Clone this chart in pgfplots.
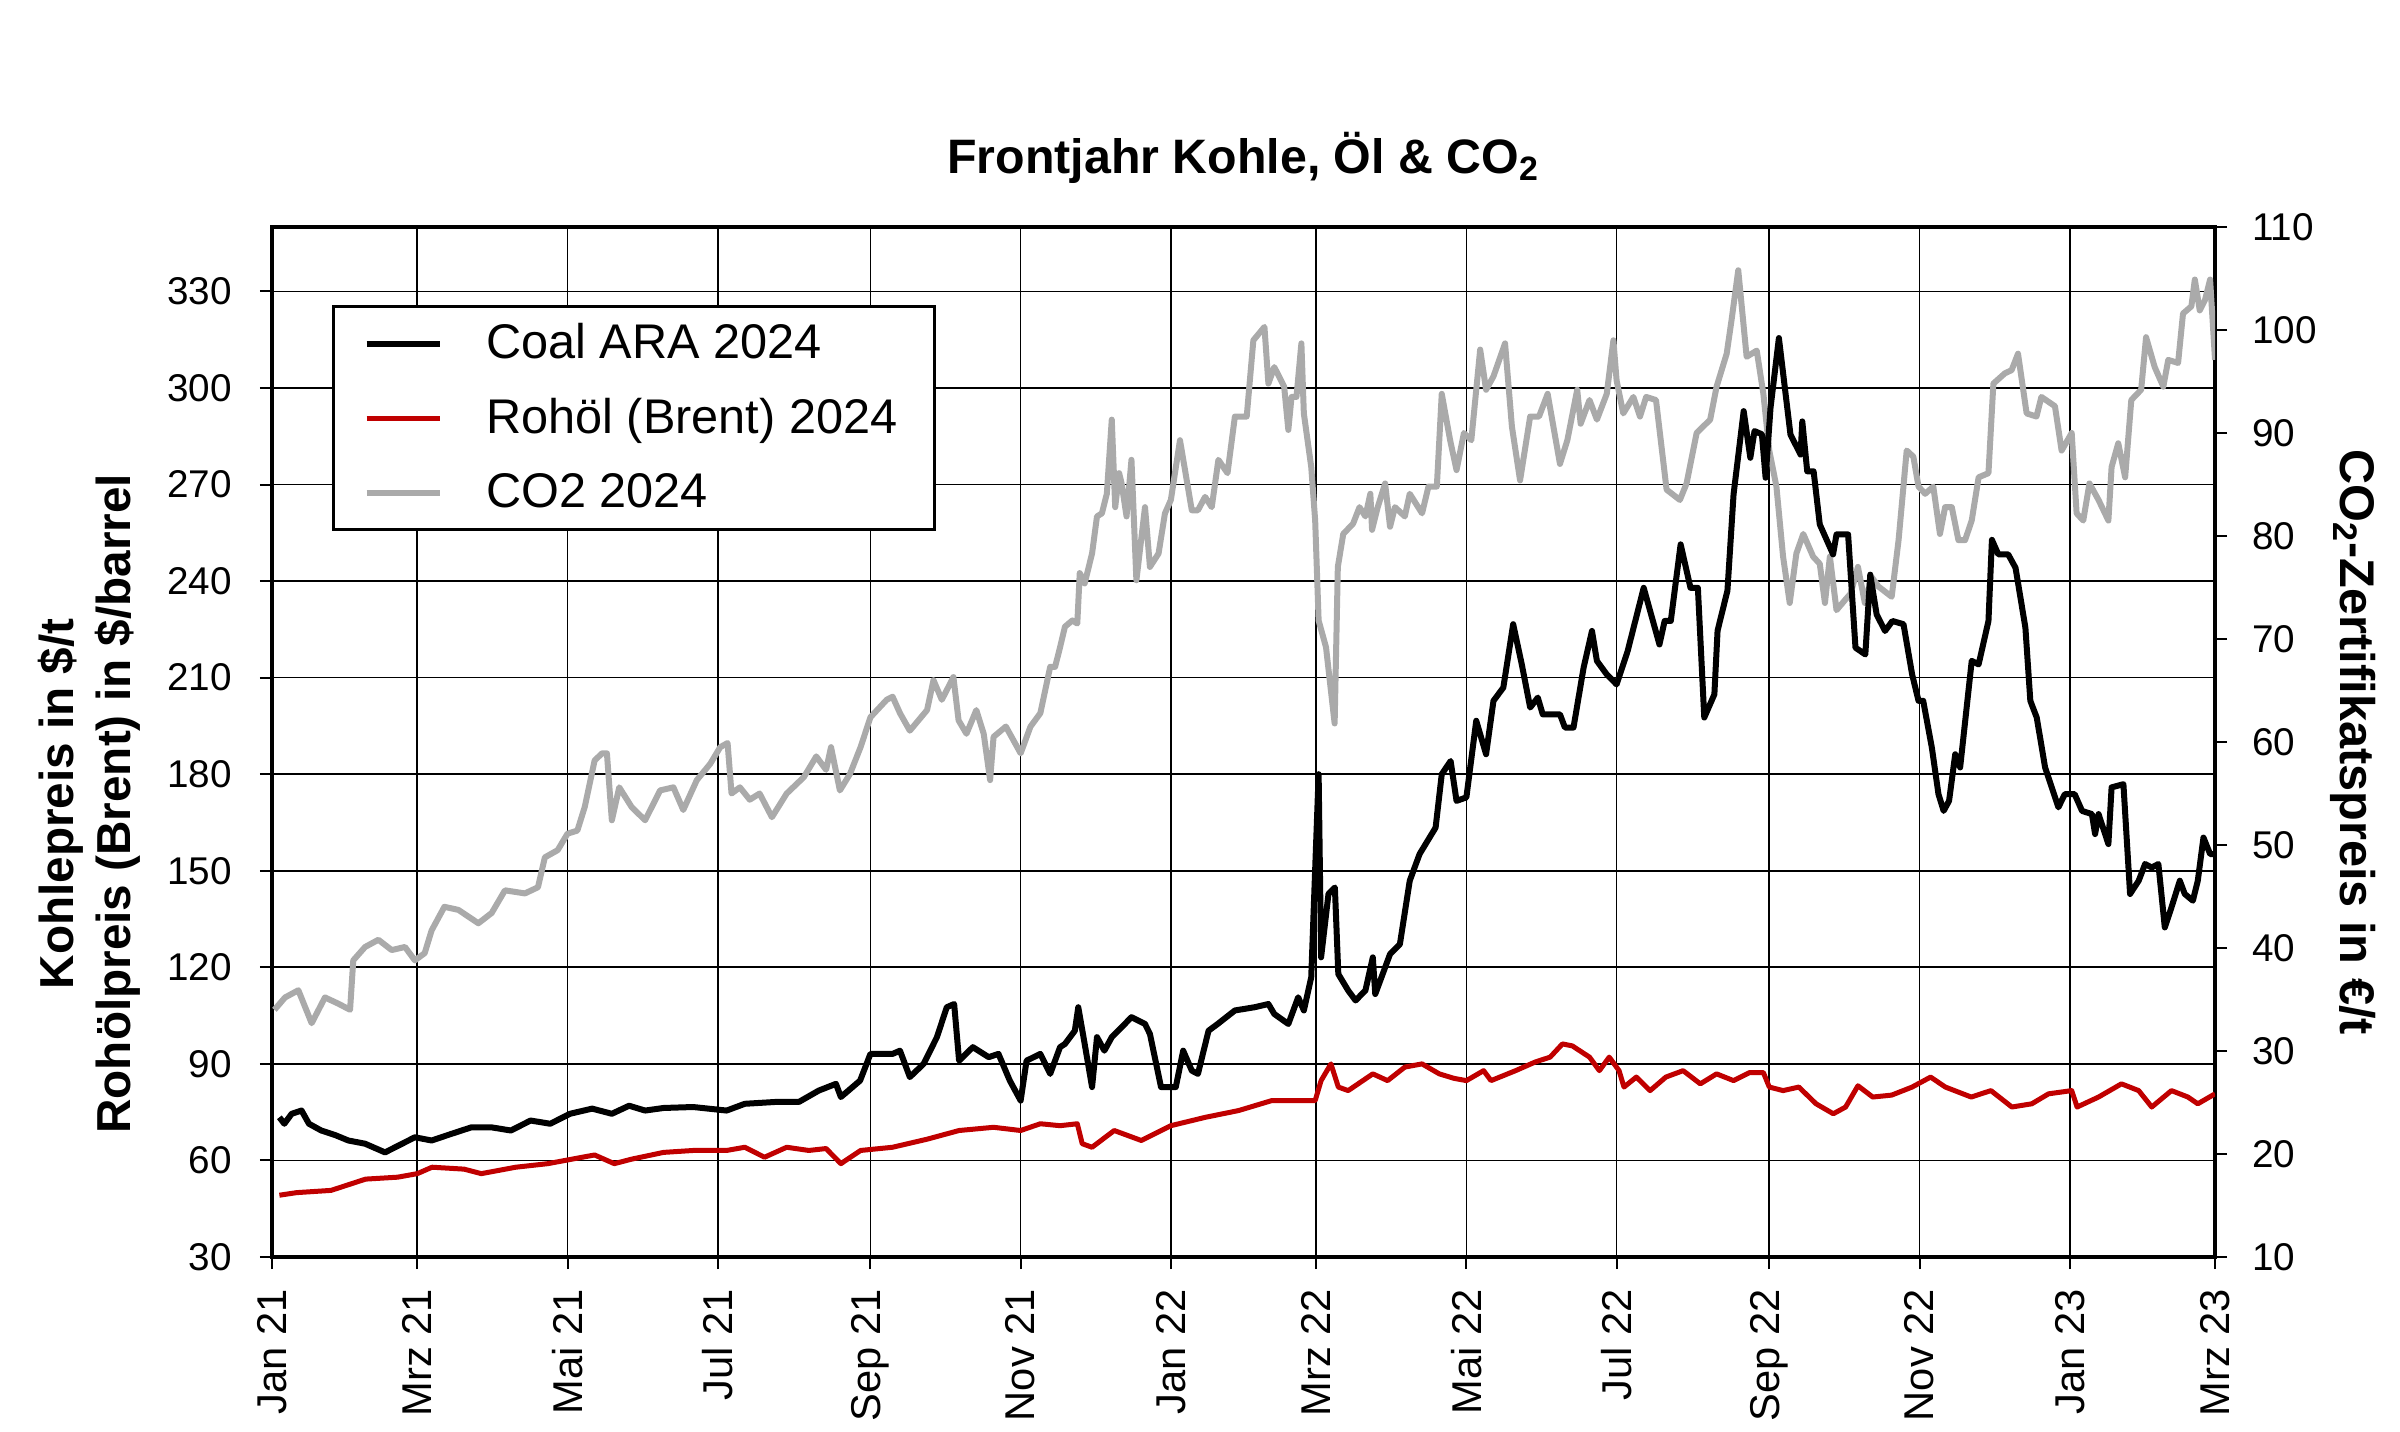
\documentclass[border=0pt]{standalone}
\usepackage{fontspec}
\setmainfont{Liberation Sans}
\usepackage{pgfplots}
\pgfplotsset{compat=1.18}
\usepackage{pgfplotstable}

\definecolor{brentred}{RGB}{192,0,0}
\definecolor{co2gray}{RGB}{170,170,170}

\pgfplotstableread{
d v
3 73.4
5 71.4
8 74.5
12 75.5
15 71.4
20 69.3
25.6 67.9
31 66.2
37.8 65.2
45.9 62.5
51.3 64.6
58 67.2
64.8 66.2
73 68.3
81 70.3
89 70.3
97 69.3
105 72.4
113 71.4
121 74.5
130 76.1
138 74.5
145 77
151.5 75.5
159 76.3
171 76.6
184.6 75.5
192 77.6
205 78.2
214 78.2
222 81.7
229 83.8
231 79.7
238.8 84.8
243 93.1
252 93.1
255 94.1
259 85.9
264.6 90
270 98.3
274 107.6
277 108.6
279 91
284.6 95.2
291 92.1
295 93.1
299.6 84.8
304 78.6
306.4 91
312 93.1
316 86.9
320 95.2
322 96.2
326 100.3
327.4 107.6
330 96.2
333 82.8
335 98.3
338 94.1
341 98.3
349 104.5
354.5 102.4
356.5 99.3
361 82.8
367 82.8
370 94.1
373.5 87.9
376 86.9
380.3 100.3
384 102.4
391 106.6
399 107.6
404.6 108.6
407 105.5
412.7 102.4
416.7 110.7
419 106.6
422 116.9
425 180
426 123.1
429 142.8
431.6 144.8
433 117.9
437 112.8
440 109.7
444 112.8
447 123.1
448 111.7
454 124.1
458 127.2
462 146.9
466 155.2
472.5 163.4
475 180
478.6 184.1
481 171.7
485 172.8
489 196.6
493 186.2
496 202.8
500 206.9
504 226.6
507.5 214.1
510.9 200.7
514 203.8
516 198.6
523 198.6
525 194.5
528.5 194.5
532.6 213.1
536 224.5
538 215.2
542 211
546 207.9
550.5 218.3
557 237.9
563.4 220.3
565.5 227.6
568 227.6
572 251.4
576 237.9
579 237.9
581.6 197.6
585.7 204.8
587 224.6
591 237
593.5 267
597.6 292.8
600.3 278.3
602 286.6
605 285.6
606.5 272.1
608.5 293.8
611.9 315.5
616.6 285.5
620.7 279.3
621.4 289.6
623.4 274.1
626 274.1
628.5 257.6
633.9 248.3
635.3 254.5
640 254.5
643 219.3
647 217.2
649 242
651.6 229.6
655 224.5
658 227.6
662.5 226.6
666 211
668.6 202.8
670.5 202.8
674 188.3
676.7 173.8
678.8 168.6
681 171.7
683.5 186.2
685.5 182.1
690.2 215.2
693 214.1
697 227.6
698.4 252.8
701 248.3
705 248.3
708 244.1
712 225.5
714 202.8
716.6 197.6
720 182.1
725.4 169.7
728 173.8
732 173.8
735 168.6
739 167.6
740.3 161.4
741.7 167.6
745.7 158.3
747 175.9
751.8 176.9
754.5 142.8
758 146.9
760.6 152.1
763.3 151
766 152.1
768.6 132.4
771.3 138.6
774.7 146.9
776.7 142.8
780 140.7
782 146.9
784.3 160.3
787 155.2
789 155.2
}\coaltab

\pgfplotstableread{
d v
3 49.2
10 50
24 50.7
38 54.2
51 54.8
59 55.9
65 57.9
78 57.3
85 55.9
99 57.9
112 59
126 61
131 61.7
139 59
146 60.4
159 62.5
171 63.1
184.6 63.1
192 64.1
200 61
209 64.1
218 63.1
225 63.7
231 59
239 63.1
252 64.1
266 66.6
279 69.3
293 70.3
304 69.3
312 71.4
320 70.8
327 71.4
329 65.2
333 64.1
342 69.3
353 66.2
365 70.8
379 73.4
392.5 75.5
406 78.6
423.6 78.6
426 84.8
430 90
433 82.8
437 81.7
447 86.9
453 84.8
460 89
467 90
474 86.9
480 85.5
485 84.8
492 87.9
495 84.8
505 87.9
513 90.6
519 92.1
524 96.2
528 95.6
535 92.1
539 87.9
543 92.1
547 87.9
549 82.8
554 85.9
559.6 81.7
566 85.9
573 87.9
580 83.8
586.6 86.9
593.5 84.8
600 87.3
605.6 87.3
608 82.8
613.6 81.7
620 82.8
627 77.6
634 74.5
639 76.6
644 83.2
650 79.7
657.7 80.3
666 82.8
673.5 85.9
679.5 82.8
690 79.7
698 81.7
706.5 76.6
714.6 77.6
721.4 80.7
730.8 81.7
733 76.6
741.7 79.7
751 83.8
758 81.7
763.3 76.6
771.3 81.7
778 79.7
782 77.6
789 80.7
}\brenttab

\pgfplotstableread{
d v
1 34
5.3 35.2
10.7 35.9
16.1 32.7
21.5 35.2
26.9 34.6
31.7 34
33 38.8
37.8 40.1
43.2 40.8
48.6 39.8
54 40.1
58 38.8
62 39.5
64.8 41.7
70 44
75.7 43.7
83.8 42.4
89.2 43.4
94.6 45.6
102.7 45.3
108 45.9
110.8 48.8
116 49.5
120 51.1
124 51.4
127 53.7
131 58.2
134 58.9
136 58.9
138 52.4
141 55.6
146 53.7
151.5 52.4
157.6 55.3
163 55.6
167 53.4
172.5 56.3
178 57.9
182 59.5
185 59.9
186.6 55
190 55.6
194 54.4
198 55
203 52.7
209 55
216 56.6
221 58.6
225 57.3
227 59.5
230.6 55.3
234.7 56.9
239 59.5
243 62.4
249.6 64.1
252 64.4
255 62.8
259 61.1
266 63.1
268.6 66
272 64.1
276.7 66.3
278.8 62.1
282 60.8
286 63.1
289 60.8
291.6 56.3
293 60.5
298 61.5
304 58.9
308 61.5
312 62.8
316 67.3
318 67.3
320 69.2
322 71.2
325 71.8
327 71.5
328 76.4
330 75.4
333 78.3
335 81.9
337 82.2
339 84.1
341 91.3
342.4 82.8
344 86.1
345 85.1
347 81.9
349 87.4
351 75.7
354.5 82.8
356.5 77
360 78.3
362.6 82.2
365 83.5
368.7 89.3
373.5 82.5
376 82.5
378.9 83.8
381.6 82.8
384.3 87.4
388 86.1
391 91.6
395.8 91.6
398.5 99
403 100.3
404.6 94.8
407 96.4
411 94.5
412.7 90.3
414 93.5
416 93.5
418 98.7
419 91.9
422 86.7
423.6 81.5
425 71.8
428 69.2
431.5 61.8
432.8 77
435 80.2
439 81.2
441.6 82.8
444 81.9
446 84.1
446.7 80.6
449 82.8
452 85.1
454 80.9
456 82.8
460 81.9
462 84.1
467 82.2
469.6 84.8
473 84.8
475 93.8
478.4 89.3
481 86.4
484 90
487 89.3
490.6 98.1
493 94.2
496 95.5
500.7 98.7
503.5 90.6
506.8 85.4
510.9 91.6
514.5 91.6
518 93.8
523 87
526 89.3
530 94.2
531.4 90.9
535 93.2
538 91.3
542 93.8
544.7 99
546 95.1
548.7 91.9
552.8 93.5
555.5 91.6
558 93.5
562 93.2
566.3 84.5
571.7 83.5
574.4 85.1
578.5 90
584 91.3
586.6 94.5
590.7 97.7
592.7 101
595.4 105.8
598.8 97.4
602.9 98
605.6 93.8
608 88.3
610.9 84.8
613.6 78
616.3 73.5
619 78.3
621.8 80.2
625.8 78
628.5 77.3
630.6 73.5
632.6 78
635.3 72.8
638.8 73.8
641 74.4
644 77
646.8 73.5
649.6 76
652.3 75.1
657.7 74.1
660.5 79.6
663.8 88.3
666.5 87.7
668.6 84.8
671.3 84.1
674.6 84.8
677.3 80.2
679.4 82.8
682.1 82.8
684.8 79.6
687.5 79.6
690.2 81.5
693 85.7
697 86.1
699 94.8
703.7 95.8
706.4 96.1
709 97.7
712.5 91.9
716.5 91.6
718.5 93.5
724 92.6
726.7 88.3
730.8 90
732.8 82.2
735.5 81.5
738 85.1
741.7 83.5
745.7 81.5
747 86.7
749.7 89
752.5 85.7
755 93.2
759 94.2
761 99.3
764.5 96.4
768 94.5
770 97.1
774 96.8
776 101.6
779.4 102.3
780.8 104.9
782.8 101.9
784.9 102.9
787 104.9
789 97.1
}\cotab

\begin{document}
\begin{tikzpicture}
\path[use as bounding box] (0,0) rectangle (720pt,429.3pt);
\pgfplotsset{
  base/.style={
    at={(81.6pt,52.2pt)}, anchor=south west,
    scale only axis, width=582.9pt, height=309pt,
    xmin=0, xmax=789,
    tick label style={font=\fontsize{11.6}{13}\selectfont},
    /pgf/number format/assume math mode=true,
    tick align=outside,
    major tick length=3.6pt,
    tick style={black, line width=0.6pt},
    axis line style={line width=1.3pt},
  }
}
% axis 1: frame, grid, left axis, x axis
\begin{axis}[base,
  ymin=30, ymax=350,
  ytick={30,60,...,330},
  xtick={0,59,120,181,243,304,365,424,485,546,608,669,730,789},
  xticklabels={Jan 21,Mrz 21,Mai 21,Jul 21,Sep 21,Nov 21,Jan 22,Mrz 22,Mai 22,Jul 22,Sep 22,Nov 22,Jan 23,Mrz 23},
  xticklabel style={yshift=-2.5pt, rotate=90, anchor=east, font=\fontsize{12.5}{14}\selectfont},
  yticklabel style={xshift=-5pt},
  ytick pos=left, xtick pos=bottom,
  grid=major,
  major grid style={black, line width=0.5pt},
  title={Frontjahr Kohle, Öl \& CO\textsubscript{2}},
  title style={at={(0.5,1)}, anchor=base, yshift=10.2pt, font=\bfseries\fontsize{14.5}{17}\selectfont},
  ylabel={Kohlepreis in \$/t\\Rohölpreis (Brent) in \$/barrel},
  ylabel style={align=center, font=\bfseries\fontsize{14.3}{17.1}\selectfont, at={(axis description cs:-0.094,0.44)}, anchor=center},
]
\end{axis}
% axis 2: right axis, CO2
\begin{axis}[base,
  ymin=10, ymax=110,
  ytick={10,20,...,110},
  axis y line*=right,
  hide x axis,
  yticklabel style={xshift=4pt},
  ylabel={CO\textsubscript{2}-Zertifikatspreis in €/t},
  ylabel style={font=\bfseries\fontsize{14.6}{17}\selectfont, at={(axis description cs:1.071,0.5)}, anchor=center, rotate=180},
]
\addplot[co2gray, line width=1.8pt, line join=round] table[x=d,y=v] {\cotab};
\end{axis}
% axis 3: coal and brent, legend
\begin{axis}[base,
  ymin=30, ymax=350,
  hide axis,
  legend style={at={(0.0309,0.924)}, anchor=north west, draw=black, line width=0.9pt,
    font=\fontsize{14.6}{17}\selectfont, inner xsep=9pt, inner ysep=3pt,
    row sep=6.5pt, column sep=11pt, cells={anchor=west}},
  legend image code/.code={\draw[#1] (0pt,0pt) -- (22pt,0pt);},
]
\addplot[black, line width=1.8pt, line join=round] table[x=d,y=v] {\coaltab};
\addlegendentry{Coal ARA 2024}
\addplot[brentred, line width=1.5pt, line join=round] table[x=d,y=v] {\brenttab};
\addlegendentry{Rohöl (Brent) 2024}
\addlegendimage{co2gray, line width=1.8pt}
\addlegendentry{CO2 2024}
\end{axis}
\end{tikzpicture}
\end{document}
